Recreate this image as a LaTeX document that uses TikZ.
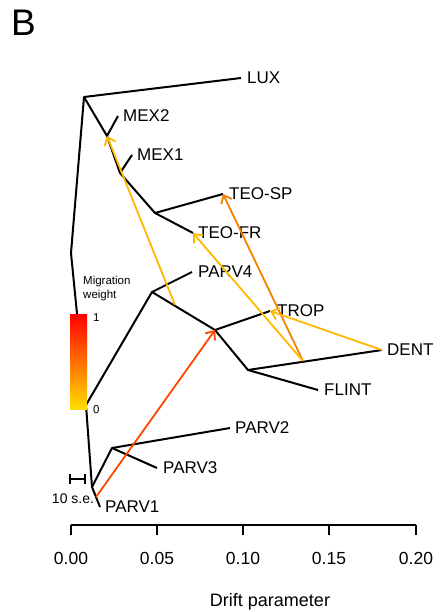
\documentclass[tikz,border=0pt]{standalone}
\usepackage{fontspec}
\setmainfont{Liberation Sans}
\usetikzlibrary{arrows.meta,positioning}
\definecolor{migY}{RGB}{255,184,0}
\definecolor{migO}{RGB}{242,130,0}
\definecolor{migR}{RGB}{255,70,0}
\definecolor{barTop}{RGB}{255,0,0}
\definecolor{barBot}{RGB}{255,222,0}
\tikzstyle{branch} = [draw, line width=2pt, line join=round]
\tikzstyle{mig} = [draw, -{Straight Barb[length=7pt, width=12pt]}, line width=1.8pt]
\tikzstyle{leaf} = [inner sep=0pt, font=\fontsize{17}{17}\selectfont]
\tikzstyle{small} = [inner sep=0pt, font=\fontsize{11.5}{14}\selectfont]
\tikzstyle{tick} = [inner sep=0pt, font=\fontsize{17.5}{17.5}\selectfont]
\begin{document}
\begin{tikzpicture}[x=1pt, y=-1pt]
	\useasboundingbox (0,0) rectangle (440,612);
	\node [inner sep=0pt, anchor=north west, font=\fontsize{37}{37}\selectfont] (panel) at (11,10) {B};
	
	% inner nodes of the tree
	\coordinate (root) at (84,97);
	\coordinate (kink) at (71,253);
	\coordinate (nPARV) at (86,405);
	\coordinate (nP1) at (92,487);
	\coordinate (nP23) at (112,448);
	\coordinate (nMEX2) at (107,136);
	\coordinate (nMEX1) at (120,173);
	\coordinate (nTEO) at (155,213);
	\coordinate (nP4) at (152,292);
	\coordinate (nTROP) at (215,330);
	\coordinate (nFL) at (248,370);
	
	% tips
	\coordinate (tLUX) at (241,78);
	\coordinate (tMEX2) at (118,116);
	\coordinate (tMEX1) at (132,155);
	\coordinate (tTEOSP) at (223,194);
	\coordinate (tTEOFR) at (193,233);
	\coordinate (tPARV4) at (192,272);
	\coordinate (tTROP) at (270,311);
	\coordinate (tDENT) at (382,350);
	\coordinate (tFLINT) at (318,390);
	\coordinate (tPARV2) at (230,428);
	\coordinate (tPARV3) at (157,468);
	\coordinate (tPARV1) at (100,507);
	
	\node [leaf, right=6pt of tLUX] (lux) {LUX};
	\node [leaf, right=5pt of tMEX2] (mex2) {MEX2};
	\node [leaf, right=5pt of tMEX1] (mex1) {MEX1};
	\node [leaf, right=6pt of tTEOSP] (teosp) {TEO-SP};
	\node [leaf, right=5pt of tTEOFR] (teofr) {TEO-FR};
	\node [leaf, right=6pt of tPARV4] (parv4) {PARV4};
	\node [leaf, right=7pt of tTROP] (trop) {TROP};
	\node [leaf, right=5pt of tDENT] (dent) {DENT};
	\node [leaf, right=6pt of tFLINT] (flint) {FLINT};
	\node [leaf, right=5pt of tPARV2] (parv2) {PARV2};
	\node [leaf, right=6pt of tPARV3] (parv3) {PARV3};
	\node [leaf, right=5pt of tPARV1] (parv1) {PARV1};
	
	\path [branch] (tLUX) -- (root) -- (kink) -- (nPARV) -- (nP1) -- (tPARV1);
	\path [branch] (root) -- (nMEX2) -- (nMEX1) -- (nTEO) -- (tTEOFR);
	\path [branch] (nMEX2) -- (tMEX2);
	\path [branch] (nMEX1) -- (tMEX1);
	\path [branch] (nTEO) -- (tTEOSP);
	\path [branch] (nPARV) -- (nP4) -- (nTROP) -- (nFL) -- (tFLINT);
	\path [branch] (nP4) -- (tPARV4);
	\path [branch] (nTROP) -- (tTROP);
	\path [branch] (nFL) -- (tDENT);
	\path [branch] (nP1) -- (nP23) -- (tPARV2);
	\path [branch] (nP23) -- (tPARV3);
	
	% migration weight legend
	\shade [top color=barTop, bottom color=barBot] (70,314) rectangle (87,409);
	\node [small, anchor=west, align=left] (legend) at (83,289) {Migration\\weight};
	\node [small, anchor=west] (one) at (93,318) {1};
	\node [small, anchor=west] (zero) at (93,410) {0};
	
	% migration edges
	\coordinate (m1) at (175,305);
	\coordinate (m2) at (303,361);
	\coordinate (m3) at (96,497);
	\path [mig, migY] (m1) -- (nMEX2);
	\path [mig, migO] (m2) -- (tTEOSP);
	\path [mig, migY] (m2) -- (tTEOFR);
	\path [mig, migY] (tDENT) -- (tTROP);
	\path [mig, migR] (m3) -- (nTROP);
	
	% scale bar
	\coordinate (sbL) at (70,479);
	\coordinate (sbR) at (85,479);
	\draw [line width=2pt] (sbL) -- (sbR);
	\draw [line width=2pt] ([yshift=-5pt]sbL) -- ([yshift=5pt]sbL);
	\draw [line width=2pt] ([yshift=-5pt]sbR) -- ([yshift=5pt]sbR);
	\node [inner sep=0pt, font=\fontsize{14}{14}\selectfont] (se) at (73,499) {10 s.e.};
	
	% drift axis
	\draw [line width=2pt] (71,525) -- (416,525);
	\foreach \v/\x in {0.00/71, 0.05/157, 0.10/243, 0.15/329, 0.20/416} {
		\draw [line width=2pt] (\x,525) -- (\x,535);
		\node [tick] at (\x,558) {\v};
	}
	\node [inner sep=0pt, font=\fontsize{18}{18}\selectfont] (xlabel) at (270,602) {Drift parameter};
\end{tikzpicture}
\end{document}
